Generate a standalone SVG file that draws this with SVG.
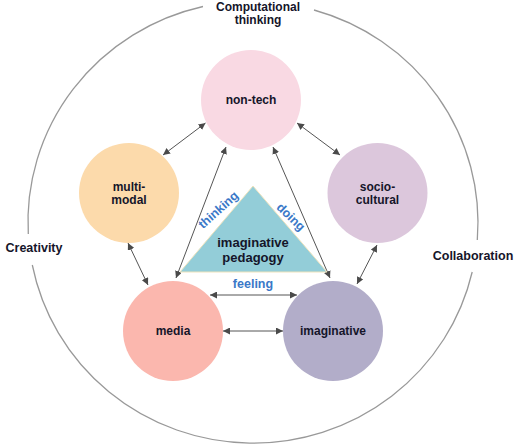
<svg xmlns="http://www.w3.org/2000/svg" width="520" height="446" viewBox="0 0 520 446">
<defs>
<marker id="ah" viewBox="0 0 10 10" refX="10" refY="5" markerWidth="7" markerHeight="7" markerUnits="userSpaceOnUse" orient="auto-start-reverse">
<path d="M0,0 L10,5 L0,10 z" fill="#4a4a4a"/>
</marker>
<style>
.lbl{font-family:"Liberation Sans",Arial,sans-serif;font-weight:bold;font-size:12px;fill:#15152a;text-anchor:middle}
.big{font-size:13px}
.blue{fill:#3a78c8;font-size:12.5px}
.conn{stroke:#555;stroke-width:1;fill:none;marker-start:url(#ah);marker-end:url(#ah)}
.ring{stroke:#999;stroke-width:1.3;fill:none}
</style>
</defs>
<rect width="520" height="446" fill="#fff"/>
<g id="ring">
<path class="ring" d="M203 6.5 A225 221 0 0 0 28.3 234"/>
<path class="ring" d="M32.3 265 A225 221 0 0 0 472.2 272"/>
<path class="ring" d="M477.3 240 A225 221 0 0 0 314 10"/>
</g>
<g id="ring-labels">
<text class="lbl" x="258" y="11">Computational</text>
<text class="lbl" x="258" y="24">thinking</text>
<text class="lbl" x="34" y="252" style="font-size:12.5px">Creativity</text>
<text class="lbl" x="473" y="260" style="font-size:12.5px">Collaboration</text>
</g>
<g id="connectors">
<line class="conn" x1="205.5" y1="123" x2="163" y2="155"/>
<line class="conn" x1="297" y1="123" x2="340" y2="155"/>
<line class="conn" x1="128" y1="243" x2="148" y2="285"/>
<line class="conn" x1="377" y1="245" x2="357" y2="284"/>
<line class="conn" x1="176" y1="278" x2="226" y2="147"/>
<line class="conn" x1="330" y1="278" x2="273" y2="147"/>
<line class="conn" x1="210" y1="295" x2="297" y2="295"/>
<line class="conn" x1="223" y1="331" x2="283" y2="331"/>
</g>
<g id="non-tech">
<circle cx="251" cy="100" r="50" fill="#f9d9e3"/>
<text class="lbl" x="251" y="104">non-tech</text>
</g>
<g id="multi-modal">
<circle cx="129" cy="193" r="50" fill="#fcdaab"/>
<text class="lbl" x="129" y="191">multi-</text>
<text class="lbl" x="129" y="204">modal</text>
</g>
<g id="socio-cultural">
<circle cx="377.5" cy="193" r="50" fill="#dcc7dc"/>
<text class="lbl" x="377.5" y="191">socio-</text>
<text class="lbl" x="377.5" y="204">cultural</text>
</g>
<g id="media">
<circle cx="173" cy="331" r="50" fill="#fbb7ae"/>
<text class="lbl" x="173" y="335">media</text>
</g>
<g id="imaginative">
<circle cx="333" cy="331" r="50" fill="#b2adc9"/>
<text class="lbl" x="333" y="335">imaginative</text>
</g>
<g id="imaginative-pedagogy">
<polygon points="253,186 180,272 327,272" fill="#93cdd8" stroke="#efe3bd" stroke-width="1"/>
<text class="lbl big" x="253" y="247">imaginative</text>
<text class="lbl big" x="253" y="262">pedagogy</text>
</g>
<g id="pedagogy-labels">
<text class="lbl blue" transform="translate(221,213) rotate(-42)">thinking</text>
<text class="lbl blue" transform="translate(288,220) rotate(44)">doing</text>
<text class="lbl blue" x="253" y="288">feeling</text>
</g>
</svg>
